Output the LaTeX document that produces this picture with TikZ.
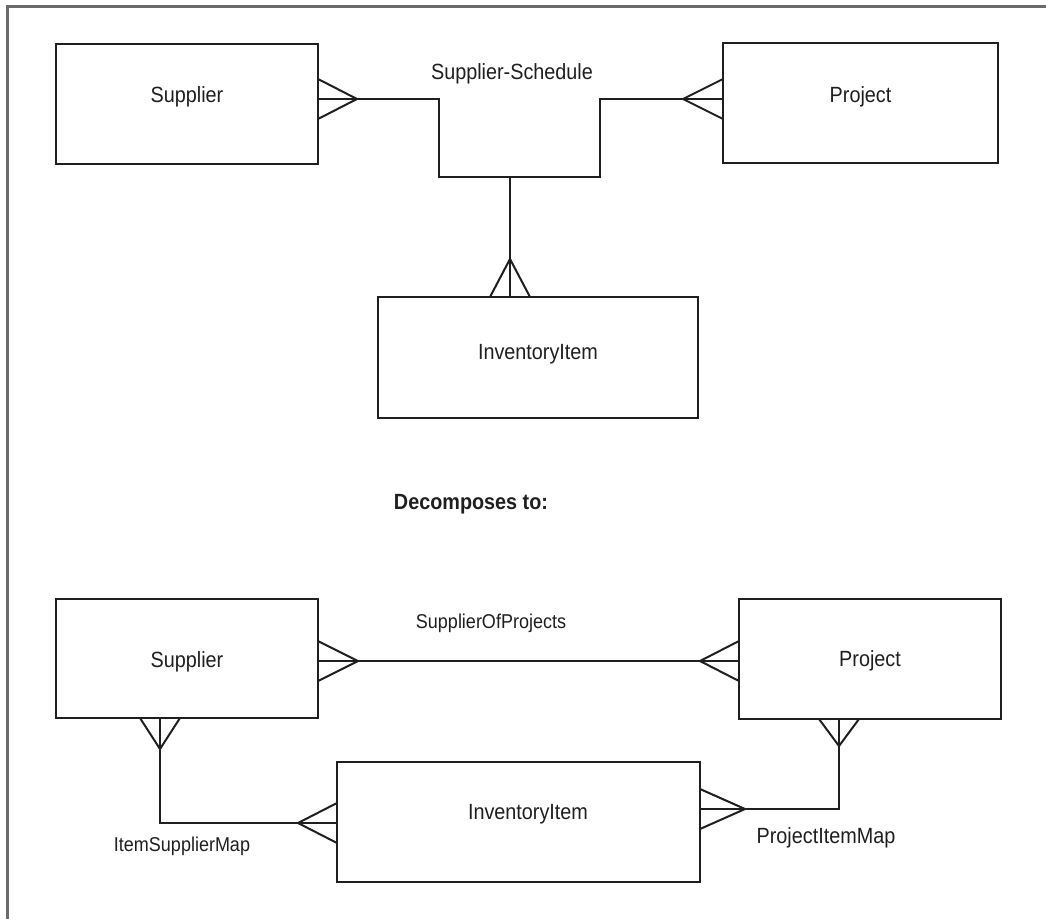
\documentclass[tikz,border=0pt]{standalone}
\usepackage{fontspec}
\setmainfont{Liberation Sans}[FakeStretch=0.9]
\usetikzlibrary{calc}
\definecolor{ink}{gray}{0.12}
\definecolor{framegray}{gray}{0.42}
\begin{document}
\begin{tikzpicture}[x=1pt,y=1pt,
  entity/.style={draw=ink, line width=2pt, inner sep=0pt, outer sep=0pt, fill=white},
  etext/.style={text=ink, inner sep=0pt, font=\fontsize{22}{26}\selectfont},
  rlabel/.style={text=ink, inner sep=0pt, font=\fontsize{20}{24}\selectfont},
  heading/.style={text=ink, inner sep=0pt, font=\bfseries\fontsize{22}{26}\selectfont},
  conn/.style={draw=ink, line width=2pt, line join=miter},
  frame/.style={draw=framegray, line width=3pt},
  pics/crow/.style={code={\draw[conn] (0,20) -- (#1,0) -- (0,-20);}},
  pics/crow/.default=39]
\useasboundingbox (0,0) rectangle (1046,-918);

% outer frame
\draw[frame] (7,-930) -- (7,-6) -- (1060,-6);

% ---------- ternary relationship ----------
\node[entity, minimum width=262, minimum height=120] (s1) at (187,-104) {};
\node[etext] (s1t) at (187,-97) {Supplier};
\node[entity, minimum width=275, minimum height=120] (p1) at (860.5,-103) {};
\node[etext] (p1t) at (860.5,-97) {Project};
\node[entity, minimum width=320, minimum height=121] (i1) at (538,-357.5) {};
\node[etext] (i1t) at (538,-354) {InventoryItem};

\coordinate (jl) at (439,-99);
\coordinate (jr) at (600,-99);
\coordinate (jb) at (510,-177);
\draw[conn] (s1.east |- jl) -- (jl) -- (jl |- jb) -- (jr |- jb) -- (jr) -- (p1.west |- jr);
\draw[conn] (jb) -- (i1.north -| jb);
\pic at (s1.east |- jl) {crow=39};
\pic[rotate=180] at (p1.west |- jr) {crow=40};
\pic[rotate=90] at (i1.north -| jb) {crow=38};
\node[rlabel, font=\fontsize{22}{26}\selectfont] (ss) at (512,-74) {Supplier-Schedule};

\node[heading] (dec) at (471,-504) {Decomposes to:};

% ---------- binary relationships ----------
\node[entity, minimum width=262, minimum height=119] (s2) at (187,-658.5) {};
\node[etext] (s2t) at (187,-662) {Supplier};
\node[entity, minimum width=262, minimum height=120] (p2) at (870,-659) {};
\node[etext] (p2t) at (870,-661) {Project};
\node[entity, minimum width=363, minimum height=120] (i2) at (518.5,-822) {};
\node[etext] (i2t) at (528,-814) {InventoryItem};

\coordinate (m) at (0,-661);
\draw[conn] (s2.east |- m) -- (p2.west |- m);
\pic at (s2.east |- m) {crow=40};
\pic[rotate=180] at (p2.west |- m) {crow=39};
\node[rlabel] (sop) at (491,-623) {SupplierOfProjects};

\coordinate (ls) at (160,-823);
\draw[conn] (s2.south -| ls) -- (ls) -- (i2.west |- ls);
\pic[rotate=-90] at (s2.south -| ls) {crow=31};
\pic[rotate=180] at (i2.west |- ls) {crow=39};
\node[rlabel] (ism) at (182,-846) {ItemSupplierMap};

\coordinate (rp) at (839,-809);
\draw[conn] (p2.south -| rp) -- (rp) -- (i2.east |- rp);
\pic[rotate=-90] at (p2.south -| rp) {crow=27};
\pic at (i2.east |- rp) {crow=45};
\node[rlabel, font=\fontsize{22}{26}\selectfont] (pim) at (826,-838) {ProjectItemMap};
\end{tikzpicture}
\end{document}
